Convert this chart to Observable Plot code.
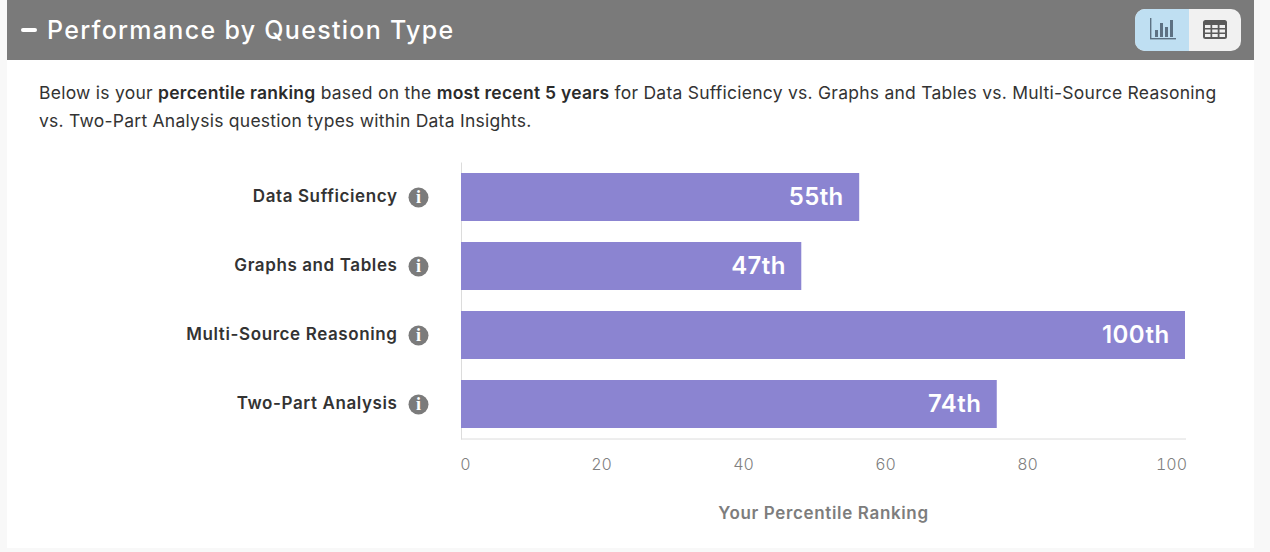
<!DOCTYPE html>
<html><head><meta charset="utf-8">
<script src="https://cdn.jsdelivr.net/npm/d3@7"></script>
<script src="https://cdn.jsdelivr.net/npm/@observablehq/plot@0.6"></script>
<style>
html,body{margin:0;padding:0;width:1270px;height:552px;overflow:hidden;background:#f8f8f8;font-family:Inter,sans-serif}
#panel{position:absolute;left:7px;top:0;width:1247px;height:548px;background:#fff}
#head{position:absolute;left:0;top:0;width:1247px;height:60px;background:#7a7a7a;color:#fff}
#minus{position:absolute;left:14px;top:28px;width:16px;height:4px;border-radius:2px;background:#fff}
#title{position:absolute;left:40px;top:14px;font-size:25px;line-height:32px;font-weight:500;letter-spacing:1.3px;white-space:nowrap}
#toggle{position:absolute;left:1128px;top:9px;width:106px;height:42px;border-radius:10px;overflow:hidden;background:#f1f1f1}
#toggle .on{position:absolute;left:0;top:0;width:54px;height:42px;background:#bfdff2}
#toggle svg{position:absolute}
#intro{position:absolute;left:32px;top:79px;width:1200px;font-size:17.5px;line-height:28px;color:#333;letter-spacing:.25px;white-space:nowrap}
#intro b{font-weight:600;color:#2b2b2b}
#chart{position:absolute;left:0;top:0}
.rowname text{letter-spacing:.6px}
.rank text{letter-spacing:.4px}
.xlabel text{letter-spacing:.65px}
</style></head><body>
<div id="panel">
  <div id="head">
    <div id="minus"></div><div id="title">Performance by Question Type</div>
    <div id="toggle"><div class="on"></div>
      <svg style="left:14px;top:9px" width="28" height="24" viewBox="0 0 28 24"><g fill="#5d7183"><rect x="1" y="0" width="1.4" height="21"/><rect x="1" y="20" width="26" height="1.4"/><rect x="6" y="12" width="3" height="7"/><rect x="11" y="5" width="3" height="14"/><rect x="16" y="9" width="3" height="10"/><rect x="21" y="2" width="3" height="17"/></g></svg>
      <svg style="left:67px;top:10px" width="26" height="21" viewBox="0 0 26 21"><rect x="1" y="1" width="24" height="19" rx="2.5" fill="#5b5b5b"/><g fill="#f1f1f1"><rect x="3" y="6" width="5.5" height="3"/><rect x="10.2" y="6" width="5.5" height="3"/><rect x="17.5" y="6" width="5.5" height="3"/><rect x="3" y="10.5" width="5.5" height="3"/><rect x="10.2" y="10.5" width="5.5" height="3"/><rect x="17.5" y="10.5" width="5.5" height="3"/><rect x="3" y="15" width="5.5" height="3"/><rect x="10.2" y="15" width="5.5" height="3"/><rect x="17.5" y="15" width="5.5" height="3"/></g></svg>
    </div>
  </div>
  <div id="intro">Below is your <b>percentile ranking</b> based on the <b>most recent 5 years</b> for Data Sufficiency vs. Graphs and Tables vs. Multi-Source Reasoning<br>vs. Two-Part Analysis question types within Data Insights.</div>
</div>
<div id="chart"></div>
<script>
const questionTypes = ["Data Sufficiency", "Graphs and Tables", "Multi-Source Reasoning", "Two-Part Analysis"];
const percentiles = [55, 47, 100, 74];
const xTicks = [0, 20, 40, 60, 80, 100];
const axisLabel = "Your Percentile Ranking";
const rows = questionTypes.map((type, i) => ({type, value: percentiles[i]}));
const ordinal = v => v + "th";
// the reference spreads its tick labels evenly between the frame's ends
const tickShift = new Map([[0, 4], [20, -4.8], [40, -7.6], [60, -10.4], [80, -13.2], [100, -14]]);

const plot = Plot.plot({
  width: 1270, height: 552,
  marginLeft: 461, marginRight: 85, marginTop: 162.5, marginBottom: 113.5,
  style: {background: "transparent", fontFamily: "Inter,sans-serif", overflow: "visible"},
  x: {domain: [0, 100]},
  y: {domain: questionTypes, paddingInner: 0.304, paddingOuter: 0.152, axis: null},
  marks: [
    Plot.frame({anchor: "left", stroke: "#dcdcdc"}),
    Plot.frame({anchor: "bottom", stroke: "#dcdcdc"}),
    Plot.barX(rows, {x: "value", y: "type", fill: "#8b84d1"}),
    Plot.text(rows, {x: "value", y: "type", text: d => ordinal(d.value), fill: "#fff", fontSize: 24, fontWeight: 600, textAnchor: "end", dx: -16, className: "rank"}),
    Plot.text(rows, {x: 0, y: "type", text: "type", fill: "#333", fontSize: 17, fontWeight: 600, textAnchor: "end", dx: -64, dy: -1, className: "rowname"}),
    Plot.dot(rows, {x: 0, y: "type", r: 10, fill: "#7b7b7b", dx: -43}),
    Plot.text(rows, {x: 0, y: "type", text: () => "i", fill: "#fff", fontSize: 18, fontWeight: 800, fontFamily: "Liberation Serif", dx: -43}),
    ...xTicks.map(t => Plot.axisX([t], {anchor: "bottom", tickSize: 0, tickPadding: 20, dx: tickShift.get(t), label: null, tickFormat: d => d, fill: "#808080", fontSize: 16, fontWeight: 300})),
    Plot.text([axisLabel], {frameAnchor: "bottom", lineAnchor: "middle", dy: 74.5, fill: "#7d7d7d", fontSize: 17, fontWeight: 600, className: "xlabel"})
  ]
});
document.getElementById("chart").appendChild(plot);
</script>
</body></html>
